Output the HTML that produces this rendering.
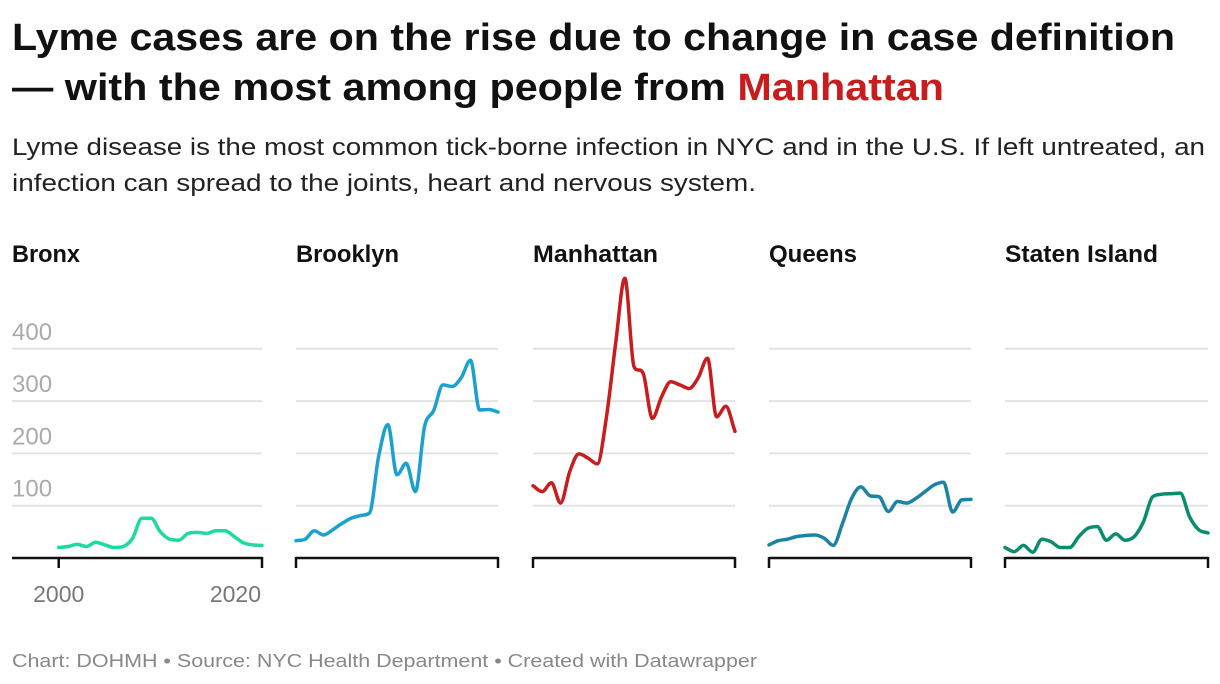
<!DOCTYPE html>
<html><head><meta charset="utf-8"><style>
body{margin:0;background:#fff;}
svg{display:block;font-family:"Liberation Sans",Arial,sans-serif;}
</style></head><body>
<svg id="chart" width="1220" height="684" viewBox="0 0 1220 684">
<text x="12" y="50" font-size="38" font-weight="bold" fill="#111" textLength="1163" lengthAdjust="spacingAndGlyphs">Lyme cases are on the rise due to change in case definition</text>
<text x="12" y="100" font-size="38" font-weight="bold" fill="#111" textLength="932" lengthAdjust="spacingAndGlyphs">— with the most among people from <tspan fill="#c91d1d">Manhattan</tspan></text>
<text x="12" y="155" font-size="24" fill="#222" textLength="1193" lengthAdjust="spacingAndGlyphs">Lyme disease is the most common tick-borne infection in NYC and in the U.S. If left untreated, an</text>
<text x="12" y="191" font-size="24" fill="#222" textLength="744" lengthAdjust="spacingAndGlyphs">infection can spread to the joints, heart and nervous system.</text>
<g id="panels"></g>
<text x="12" y="667" font-size="18" fill="#888" textLength="745" lengthAdjust="spacingAndGlyphs">Chart: DOHMH • Source: NYC Health Department • Created with Datawrapper</text>
</svg>
<script>
const years = [2000,2001,2002,2003,2004,2005,2006,2007,2008,2009,2010,2011,2012,2013,2014,2015,2016,2017,2018,2019,2020,2021,2022];
const boroughs = ["Bronx","Brooklyn","Manhattan","Queens","Staten Island"];
const bronx = [20,22,26,22,30,25,20,22,38,76,76,50,36,34,47,49,47,52,52,41,29,25,24];
const brooklyn = [33,36,52,44,54,66,76,81,86,194,255,159,181,127,251,282,331,328,345,378,283,284,279];
const manhattan = [138,127,144,105,165,199,191,180,270,410,535,366,353,267,308,337,331,324,345,382,270,290,242];
const queens = [25,33,36,41,43,44,38,24,66,114,136,119,117,89,108,105,114,127,140,145,88,111,112];
const statenIsland = [20,12,24,11,36,31,20,20,41,57,60,34,46,34,41,69,117,122,123,124,79,54,48];
const yTicks = [100,200,300,400];
const xTickLabels = ["2000","2020"];

const series = [bronx,brooklyn,manhattan,queens,statenIsland];
const colors = ["#1ed9a4","#1ba1cf","#c91d1d","#1c83a3","#0a8d6e"];
const panelX = [[58.7,262],[296,498],[533,735],[769,971],[1005,1208]];
const gridLeft = [12,296,533,769,1005];
const titleLen = [68,103,125,88,153];
const y0 = 558, yPer = 0.523;
function yScale(v){return y0 - v*yPer;}
const NS = "http://www.w3.org/2000/svg";
const root = document.getElementById('panels');
function mk(tag, attrs, parent){const e=document.createElementNS(NS,tag);for(const k in attrs)e.setAttribute(k,attrs[k]);(parent||root).appendChild(e);return e;}
function monotonePath(pts){
  const n=pts.length, dx=[], m=[], t=[];
  for(let i=0;i<n-1;i++){dx.push(pts[i+1][0]-pts[i][0]); m.push((pts[i+1][1]-pts[i][1])/dx[i]);}
  t[0]=m[0]; t[n-1]=m[n-2];
  for(let i=1;i<n-1;i++){ if(m[i-1]*m[i]<=0) t[i]=0; else { const s=(m[i-1]+m[i])/2; const a=3*Math.min(Math.abs(m[i-1]),Math.abs(m[i])); t[i]=Math.sign(s)*Math.min(Math.abs(s),a);} }
  let d="M"+pts[0][0].toFixed(1)+","+pts[0][1].toFixed(1);
  for(let i=0;i<n-1;i++){const h=dx[i]/3;
    d+="C"+(pts[i][0]+h).toFixed(1)+","+(pts[i][1]+t[i]*h).toFixed(1)+" "+(pts[i+1][0]-h).toFixed(1)+","+(pts[i+1][1]-t[i+1]*h).toFixed(1)+" "+pts[i+1][0].toFixed(1)+","+pts[i+1][1].toFixed(1);}
  return d;
}
boroughs.forEach((name,p)=>{
  const g = mk('g',{});
  
  
  const [x0,x1] = panelX[p];
  const xScale = yr => x0 + (yr-years[0])/(years[years.length-1]-years[0])*(x1-x0);
  const t = mk('text',{x:gridLeft[p],y:262,'font-size':24,'font-weight':'bold',fill:'#111',textLength:titleLen[p],lengthAdjust:'spacingAndGlyphs'},g);
  t.textContent = name;
  
  
  yTicks.forEach(v=>{
    const l = mk('line',{x1:gridLeft[p],x2:x1,y1:yScale(v),y2:yScale(v),stroke:'#e3e3e3','stroke-width':2},g);
    
    
    if(p===0){
      const lt = mk('text',{x:12,y:yScale(v)-9,'font-size':24,fill:'#aaa'},g);
      lt.textContent = v;
      
      
    }
  });
  const ax = mk('path',{d:`M${gridLeft[p]},${y0} H${x1} M${x0},${y0-1} V${y0+10} M${x1},${y0-1} V${y0+10}`,stroke:'#111','stroke-width':2.5,fill:'none'},g);
  
  
  const pts = series[p].map((v,i)=>[xScale(years[i]), yScale(v)]);
  const line = mk('path',{d:monotonePath(pts),stroke:colors[p],'stroke-width':3.5,fill:'none','stroke-linejoin':'round','stroke-linecap':'round'},g);
  
  
  if(p===0){
    const xl1 = mk('text',{x:xScale(2000),y:602,'font-size':23,fill:'#777','text-anchor':'middle'},g);
    xl1.textContent = xTickLabels[0];
    
    
    const xl2 = mk('text',{x:x1-1,y:602,'font-size':23,fill:'#777','text-anchor':'end'},g);
    xl2.textContent = xTickLabels[1];
    
    
  }
});
</script>
</body></html>
